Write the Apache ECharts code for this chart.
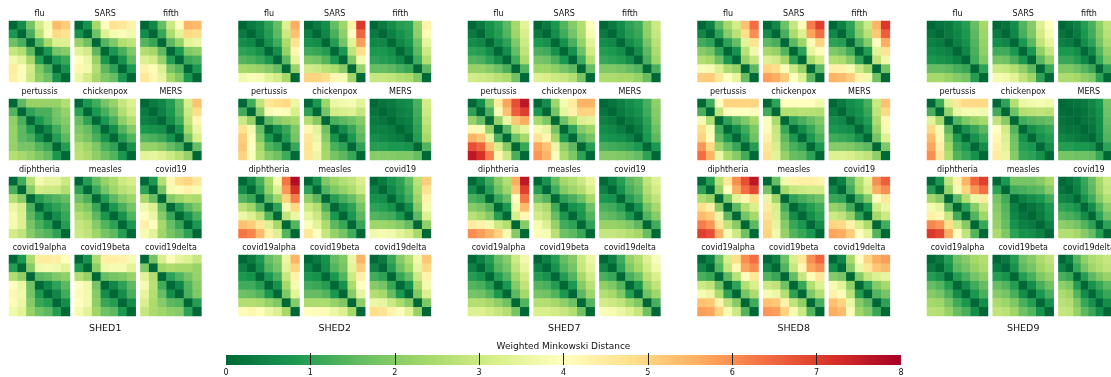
<!DOCTYPE html>
<html>
<head>
<meta charset="utf-8">
<script src="https://cdn.jsdelivr.net/npm/echarts@6/dist/echarts.min.js"></script>
<style>
  html, body { margin: 0; padding: 0; background: #fff; }
  #chart { width: 1111px; height: 377px; }
</style>
</head>
<body>
<div id="chart"></div>
<script>
// Shedding models shown as columns of small multiples
const groups = ['SHED1', 'SHED2', 'SHED7', 'SHED8', 'SHED9'];
// Diseases, laid out 3 per row, 4 rows per model
const diseases = ['flu', 'SARS', 'fifth', 'pertussis', 'chickenpox', 'MERS',
  'diphtheria', 'measles', 'covid19', 'covid19alpha', 'covid19beta', 'covid19delta'];
// Colour bar ticks (distance)
const colorTicks = [0, 1, 2, 3, 4, 5, 6, 7, 8];
// RdYlGn reversed
const cmap = ['#006837', '#1a9850', '#66bd63', '#a6d96a', '#d9ef8b', '#ffffbf',
  '#fee08b', '#fdae61', '#f46d43', '#d73027', '#a50026'];

// 7x7 weighted Minkowski distance matrices, one per disease, in the order of `diseases`
const SHED1 = [
  [[0,0.6,1.8,3.1,3.8,5.4,5.1],[0.8,0,1.3,2.7,3.9,4.9,4.7],[1.7,1.3,0,1.4,2.4,3.3,3.3],[2.9,2.6,1.5,0,0.8,1.8,2.0],[3.7,3.4,2.4,0.9,0,0.8,1.1],[4.5,4.1,3.1,1.9,1.3,0,0.7],[4.4,3.9,3.0,2.1,1.7,0.7,0]],
  [[0,0.7,2.4,4.0,4.7,4.6,4.3],[0.7,0,1.7,3.3,3.8,3.9,3.7],[2.2,1.7,0,1.4,1.9,2.6,2.8],[3.4,3.1,1.5,0,0.8,1.3,1.9],[4.0,3.6,2.2,0.8,0,0.7,1.5],[4.2,3.7,2.6,1.5,1.0,0,0.8],[3.6,3.1,2.4,1.9,1.6,0.8,0]],
  [[0,0.5,1.6,3.0,4.0,5.5,5.4],[0.6,0,1.1,2.5,3.4,4.9,4.8],[1.4,1.1,0,1.5,2.2,3.4,3.6],[2.6,2.4,1.5,0,0.8,1.9,2.1],[3.3,3.1,2.2,0.9,0,1.1,1.3],[4.3,4.1,3.3,1.8,1.4,0,0.8],[4.6,4.2,3.5,2.4,1.9,0.8,0]],
  [[0,1.5,2.2,2.2,2.2,2.2,2.6],[1.4,0,1.0,1.3,1.3,1.8,2.2],[2.1,1.3,0,0.8,1.2,1.7,2.0],[2.2,1.5,0.9,0,0.5,1.2,1.8],[2.2,1.5,1.3,0.6,0,0.9,1.5],[2.2,1.8,1.8,1.4,1.1,0,0.9],[2.6,2.4,2.2,1.9,1.6,0.8,0]],
  [[0,0.8,1.2,1.8,2.2,2.9,3.3],[1.0,0,0.8,1.3,1.8,2.6,3.1],[1.6,1.0,0,0.8,1.3,2.1,2.6],[1.9,1.6,1.0,0,0.6,1.4,2.0],[2.1,1.8,1.3,0.7,0,0.9,1.4],[2.6,2.3,1.9,1.3,1.0,0,0.7],[2.7,2.5,2.1,1.7,1.4,0.8,0]],
  [[0,0.3,0.5,0.9,1.6,3.2,5.3],[0.3,0,0.4,0.8,1.5,3.0,4.8],[0.4,0.3,0,0.6,1.2,2.8,4.2],[0.8,0.7,0.6,0,0.7,2.4,3.6],[1.4,1.3,1.1,0.7,0,1.8,3.2],[2.2,2.2,2.0,1.6,1.3,0,1.6],[3.4,3.5,3.3,3.0,2.7,2.2,0]],
  [[0,1.2,2.7,3.8,3.5,3.5,3.0],[1.3,0,2.0,3.1,3.0,3.0,2.6],[2.6,2.0,0,0.9,1.2,1.4,1.6],[3.6,3.2,1.3,0,0.7,1.0,1.3],[3.8,3.3,1.5,0.9,0,0.6,1.1],[3.8,3.3,1.8,1.3,0.9,0,0.9],[3.1,2.8,2.0,1.6,1.4,1.0,0]],
  [[0,0.9,1.6,2.2,2.5,3.0,3.2],[1.0,0,1.1,1.8,2.3,2.7,2.9],[1.7,1.3,0,0.9,1.5,2.0,2.3],[2.2,1.9,1.1,0,0.8,1.3,1.8],[2.6,2.3,1.5,0.8,0,0.7,1.4],[2.9,2.7,2.0,1.4,1.0,0,0.8],[3.0,2.8,2.3,1.8,1.5,0.9,0]],
  [[0,0.8,2.6,4.2,4.8,5.0,4.6],[1.0,0,1.8,3.8,4.1,4.3,3.8],[2.4,1.6,0,2.0,2.3,2.6,2.5],[3.7,3.3,1.6,0,0.9,1.5,1.9],[4.0,3.6,2.0,1.1,0,0.7,1.3],[4.4,4.0,2.4,1.6,1.1,0,0.8],[3.8,3.4,2.3,1.8,1.5,1.0,0]],
  [[0,0.8,2.5,4.5,4.5,4.4,4.0],[0.9,0,2.0,3.7,3.8,3.7,3.4],[2.6,2.1,0,1.5,1.6,1.9,2.1],[4.0,3.6,1.7,0,0.5,1.0,1.5],[4.2,3.7,1.8,0.8,0,0.5,1.2],[4.1,3.6,2.0,1.1,0.9,0,0.6],[3.7,3.4,2.2,1.7,1.5,0.9,0]],
  [[0,0.7,2.5,4.4,4.4,4.3,3.8],[0.8,0,2.1,3.7,3.8,3.8,3.4],[2.6,2.2,0,1.6,1.8,1.9,2.2],[4.0,3.7,1.8,0,0.5,1.0,1.5],[4.1,3.7,2.0,0.6,0,0.6,1.3],[4.0,3.7,2.1,1.1,0.9,0,0.6],[3.8,3.4,2.3,1.7,1.5,0.8,0]],
  [[0,1.8,3.2,3.9,3.5,3.3,2.9],[1.9,0,2.3,2.5,2.4,2.4,2.2],[3.4,2.6,0,1.0,1.4,1.8,2.2],[3.8,2.7,1.2,0,0.5,1.4,2.0],[3.5,2.6,1.6,0.6,0,1.3,1.9],[3.2,2.5,2.0,1.5,1.4,0,0.9],[2.9,2.5,2.3,2.1,2.0,1.0,0]]
];

const SHED2 = [
  [[0,0.3,0.5,1.0,1.6,3.3,5.6],[0.3,0,0.4,0.9,1.5,3.0,5.3],[0.6,0.5,0,0.7,1.2,2.5,4.7],[1.0,0.9,0.7,0,0.6,2.2,4.2],[1.4,1.3,1.1,0.8,0,1.5,3.5],[2.4,2.3,2.2,2.0,1.6,0,2.2],[3.7,3.9,3.8,3.4,3.1,2.4,0]],
  [[0,0.3,0.6,1.6,2.3,4.3,7.1],[0.4,0,0.5,1.3,2.1,4.0,6.5],[0.7,0.6,0,0.9,1.8,3.4,5.8],[1.2,1.1,0.9,0,0.8,2.8,4.8],[1.9,1.8,1.4,0.8,0,1.9,3.8],[3.1,3.0,2.7,2.5,2.0,0,2.2],[5.0,5.0,4.8,4.2,3.8,2.3,0]],
  [[0,0.3,0.6,0.9,1.0,2.2,4.3],[0.3,0,0.4,0.7,0.9,2.1,4.1],[0.5,0.5,0,0.5,0.8,1.7,3.5],[0.8,0.8,0.6,0,0.5,1.5,3.0],[1.0,0.9,0.8,0.5,0,1.2,2.6],[1.6,1.6,1.5,1.3,1.1,0,1.5],[2.9,2.9,2.8,2.6,2.5,1.9,0]],
  [[0,1.2,2.8,4.6,4.8,4.9,3.6],[1.2,0,2.0,3.8,4.0,3.9,3.2],[3.0,2.2,0,1.5,2.0,2.2,2.4],[4.7,3.7,1.6,0,0.6,1.1,1.9],[5.1,4.1,1.9,0.8,0,0.9,1.8],[5.2,4.0,2.4,1.4,1.1,0,1.1],[5.0,3.9,2.6,2.0,1.7,1.2,0]],
  [[0,0.8,2.3,3.6,3.7,3.8,3.4],[1.0,0,1.8,3.1,3.2,3.3,2.9],[2.6,2.0,0,1.3,1.5,1.7,2.0],[4.2,3.4,1.7,0,0.6,1.1,1.7],[4.6,3.6,2.0,0.7,0,0.8,1.5],[4.7,3.8,2.3,1.3,1.0,0,1.0],[4.6,3.6,2.4,1.8,1.5,1.1,0]],
  [[0,0.2,0.3,0.5,0.6,1.3,3.1],[0.2,0,0.2,0.4,0.5,1.2,3.0],[0.3,0.2,0,0.3,0.4,1.1,2.8],[0.4,0.4,0.3,0,0.3,1.0,2.6],[0.6,0.5,0.4,0.3,0,0.9,2.4],[0.9,0.9,0.8,0.8,0.7,0,1.4],[2.0,2.0,2.0,1.9,1.9,1.6,0]],
  [[0,0.5,1.3,2.4,3.8,6.3,7.8],[0.6,0,1.0,2.2,3.3,5.9,7.2],[1.4,1.1,0,1.5,2.3,5.0,6.2],[2.7,2.3,1.4,0,1.0,3.8,4.9],[3.6,3.3,2.7,1.4,0,2.8,3.6],[5.3,5.1,4.6,3.3,2.4,0,1.4],[6.3,6.1,5.4,4.4,3.3,1.4,0]],
  [[0,0.7,1.9,2.3,2.6,2.8,3.2],[1.0,0,1.4,1.9,2.2,2.5,3.0],[2.1,1.5,0,0.9,1.3,1.6,2.2],[3.0,2.6,1.3,0,0.6,1.0,1.8],[3.5,3.0,1.9,0.8,0,0.8,1.5],[3.9,3.4,2.5,1.5,1.1,0,1.1],[4.6,4.0,2.9,2.2,1.8,1.2,0]],
  [[0,0.3,0.7,1.0,1.6,2.7,5.1],[0.4,0,0.5,0.9,1.4,2.5,4.7],[0.7,0.6,0,0.7,1.2,2.3,4.3],[1.0,0.9,0.7,0,0.6,2.0,3.8],[1.4,1.3,1.2,0.8,0,1.5,3.3],[2.3,2.3,2.2,2.0,1.6,0,2.1],[3.7,3.8,3.7,3.4,3.1,2.4,0]],
  [[0,0.3,0.8,1.6,2.0,3.6,5.5],[0.4,0,0.6,1.4,1.8,3.4,5.0],[0.8,0.7,0,0.8,1.3,2.9,4.3],[1.2,1.2,0.9,0,0.7,2.4,3.8],[1.7,1.6,1.4,0.8,0,1.9,3.4],[2.6,2.6,2.5,2.2,1.9,0,2.0],[4.1,4.2,4.0,3.6,3.3,2.4,0]],
  [[0,0.3,0.7,1.6,1.9,3.6,5.5],[0.4,0,0.6,1.4,1.8,3.4,5.1],[0.8,0.7,0,0.8,1.4,3.0,4.4],[1.2,1.1,0.9,0,0.7,2.5,4.0],[1.6,1.6,1.4,0.8,0,2.0,3.5],[2.5,2.5,2.5,2.2,1.9,0,2.1],[4.0,4.1,3.9,3.6,3.3,2.4,0]],
  [[0,0.3,1.1,2.0,2.6,3.7,5.2],[0.4,0,0.9,1.7,2.3,3.5,4.9],[1.2,1.0,0,1.1,1.6,3.0,4.3],[2.0,1.8,1.1,0,0.7,2.4,3.8],[2.6,2.4,1.6,0.8,0,1.9,3.3],[3.6,3.5,3.0,2.5,2.0,0,1.9],[4.8,4.7,4.3,3.9,3.4,2.2,0]]
];

const SHED7 = [
  [[0,0.3,0.7,1.0,1.5,2.4,3.4],[0.3,0,0.6,0.9,1.4,2.3,3.2],[0.6,0.5,0,0.6,1.0,1.9,3.0],[1.0,0.9,0.6,0,0.6,1.6,2.8],[1.4,1.3,1.0,0.6,0,1.2,2.5],[2.2,2.2,2.0,1.7,1.3,0,1.4],[3.1,3.0,2.9,2.7,2.5,1.7,0]],
  [[0,0.3,0.8,1.4,2.0,2.6,4.0],[0.3,0,0.6,1.2,1.8,2.5,3.8],[0.8,0.7,0,0.7,1.3,2.2,3.4],[1.3,1.2,0.7,0,0.7,1.7,3.1],[1.8,1.7,1.3,0.8,0,1.2,2.6],[2.3,2.3,2.1,1.8,1.5,0,1.6],[3.3,3.2,3.0,2.9,2.6,1.8,0]],
  [[0,0.3,0.6,1.0,1.2,2.2,3.0],[0.3,0,0.5,0.9,1.1,2.1,2.9],[0.6,0.5,0,0.6,0.9,1.8,2.7],[0.9,0.8,0.6,0,0.6,1.5,2.5],[1.1,1.0,0.9,0.6,0,1.3,2.3],[1.9,1.9,1.8,1.6,1.4,0,1.3],[2.5,2.5,2.4,2.4,2.2,1.6,0]],
  [[0,0.6,2.0,4.5,5.7,6.8,7.6],[1.0,0,1.3,3.9,5.3,6.6,7.0],[2.2,1.6,0,2.2,3.6,5.2,5.6],[4.2,3.8,2.2,0,1.5,3.0,3.5],[5.5,5.2,3.5,1.3,0,1.7,2.4],[6.8,6.5,5.3,3.2,2.0,0,1.1],[7.6,7.2,6.2,4.2,3.0,1.3,0]],
  [[0,0.6,2.3,3.8,4.5,5.5,5.5],[0.8,0,1.8,3.5,4.3,5.0,5.0],[2.4,1.9,0,1.7,2.5,3.3,3.4],[3.8,3.5,1.8,0,1.0,2.0,2.3],[4.7,4.2,2.4,0.8,0,1.4,1.8],[5.7,5.3,3.6,2.1,1.5,0,0.9],[5.9,5.5,3.9,2.5,1.9,1.0,0]],
  [[0,0.2,0.4,0.6,0.8,1.3,2.1],[0.2,0,0.3,0.5,0.7,1.2,2.0],[0.4,0.3,0,0.3,0.5,1.0,1.9],[0.6,0.5,0.3,0,0.3,0.9,1.7],[0.8,0.7,0.6,0.4,0,0.8,1.5],[1.3,1.2,1.1,1.0,0.8,0,0.8],[2.0,2.0,1.9,1.8,1.6,1.0,0]],
  [[0,0.5,1.2,2.0,2.6,5.6,7.6],[0.6,0,0.9,1.7,2.3,5.2,7.0],[1.3,1.1,0,1.1,1.6,4.0,6.3],[2.0,1.8,1.4,0,0.8,3.7,5.4],[2.7,2.4,2.0,0.9,0,3.2,4.2],[4.5,4.3,3.8,3.0,2.6,0,2.0],[6.0,5.8,5.5,5.0,3.8,2.0,0]],
  [[0,0.7,1.6,2.4,2.6,3.0,3.5],[0.9,0,1.2,2.0,2.3,2.6,3.2],[1.8,1.4,0,1.0,1.3,1.7,2.4],[2.8,2.5,1.2,0,0.7,0.9,1.7],[3.1,2.8,1.6,0.8,0,0.8,1.4],[3.8,3.3,2.2,1.2,1.0,0,1.0],[4.1,3.8,2.7,1.7,1.5,1.1,0]],
  [[0,0.4,0.9,1.5,1.8,2.8,3.3],[0.4,0,0.7,1.3,1.6,2.6,3.1],[0.8,0.7,0,0.9,1.3,2.3,2.8],[1.3,1.2,0.9,0,0.7,1.8,2.4],[1.6,1.5,1.3,0.8,0,1.4,2.0],[2.2,2.2,2.1,1.9,1.5,0,1.2],[2.9,2.9,2.8,2.6,2.4,1.6,0]],
  [[0,0.4,0.9,1.6,2.0,3.0,3.7],[0.4,0,0.7,1.4,1.8,2.8,3.5],[0.9,0.7,0,0.9,1.4,2.4,3.1],[1.4,1.3,0.9,0,0.8,2.0,2.8],[1.8,1.7,1.4,0.8,0,1.5,2.4],[2.6,2.6,2.4,2.1,1.7,0,1.4],[3.3,3.3,3.1,2.9,2.6,1.8,0]],
  [[0,0.4,0.9,1.6,2.0,3.0,3.6],[0.4,0,0.7,1.4,1.8,2.9,3.4],[0.9,0.7,0,0.9,1.4,2.4,3.1],[1.4,1.3,0.9,0,0.8,2.0,2.7],[1.8,1.7,1.4,0.8,0,1.5,2.3],[2.6,2.6,2.4,2.1,1.7,0,1.4],[3.2,3.2,3.1,2.9,2.6,1.7,0]],
  [[0,0.4,1.2,2.2,2.6,3.3,3.9],[0.5,0,1.0,1.9,2.4,3.1,3.7],[1.3,1.1,0,1.3,1.7,2.7,3.2],[2.1,1.9,1.4,0,0.8,2.2,2.8],[2.6,2.4,1.9,0.9,0,1.7,2.3],[3.1,3.0,2.8,2.3,1.9,0,1.3],[3.9,3.8,3.6,3.3,2.9,1.7,0]]
];

const SHED8 = [
  [[0,0.4,1.5,2.4,3.1,5.3,6.4],[0.5,0,1.0,2.0,2.7,4.8,6.0],[1.2,1.0,0,1.0,1.6,3.4,4.7],[2.0,1.8,1.0,0,0.7,2.7,3.7],[2.6,2.4,1.7,0.8,0,2.2,2.9],[3.9,3.8,3.3,2.5,2.2,0,1.5],[5.1,5.1,4.6,4.0,3.5,1.6,0]],
  [[0,0.5,1.7,2.9,3.9,6.2,7.0],[0.6,0,1.3,2.5,3.3,5.7,6.4],[1.5,1.3,0,1.5,2.3,4.1,5.0],[2.4,2.2,1.4,0,1.0,3.5,4.1],[3.3,3.1,2.4,1.0,0,2.5,3.1],[5.0,4.8,3.9,3.0,2.2,0,1.5],[5.8,5.6,5.1,4.0,3.3,1.5,0]],
  [[0,0.4,1.0,2.1,3.0,5.5,7.1],[0.5,0,0.9,1.9,2.7,5.2,6.6],[1.0,0.9,0,1.2,2.0,4.0,5.6],[1.9,1.7,1.2,0,0.9,3.4,4.7],[2.6,2.5,2.0,1.0,0,2.8,3.7],[4.4,4.3,3.8,3.0,2.3,0,1.8],[5.5,5.4,5.1,4.3,3.7,1.7,0]],
  [[0,1.2,4.0,5.0,5.0,5.0,5.0],[1.3,0,2.8,3.9,4.0,4.0,3.9],[3.8,2.6,0,1.0,1.5,1.9,2.4],[4.8,3.8,1.2,0,0.6,1.2,1.9],[5.0,4.1,1.5,0.8,0,0.9,1.7],[5.9,4.9,2.3,1.6,1.1,0,0.9],[6.4,5.5,3.6,2.5,2.0,1.2,0]],
  [[0,1.0,4.0,4.0,4.0,4.0,3.7],[1.2,0,2.6,2.6,2.7,2.7,2.6],[3.9,2.5,0,1.0,1.3,1.6,1.9],[4.1,2.9,1.1,0,0.6,1.1,1.6],[4.3,3.0,1.5,0.8,0,0.8,1.3],[4.6,3.2,1.8,1.3,1.0,0,0.8],[4.7,3.4,2.2,1.6,1.5,1.0,0]],
  [[0,0.3,0.6,0.8,1.3,3.0,5.3],[0.3,0,0.5,0.7,1.1,2.8,4.9],[0.6,0.5,0,0.5,0.9,2.5,4.2],[0.8,0.7,0.6,0,0.6,2.2,3.8],[1.2,1.1,1.0,0.6,0,1.8,3.3],[2.0,2.0,1.9,1.7,1.5,0,1.9],[3.3,3.3,3.2,3.0,2.8,2.1,0]],
  [[0,0.9,2.7,4.6,6.0,6.8,7.6],[1.0,0,2.2,4.0,5.6,6.4,6.9],[2.5,2.2,0,1.9,3.4,4.2,4.8],[4.8,4.4,2.0,0,1.5,2.6,3.2],[5.4,5.1,3.6,1.5,0,1.8,2.4],[6.2,5.9,4.6,2.8,2.0,0,1.5],[7.0,6.8,5.5,3.8,3.0,1.7,0]],
  [[0,1.6,3.7,4.3,4.4,4.4,4.3],[1.8,0,2.4,2.9,3.0,3.1,3.1],[3.6,2.3,0,1.0,1.3,1.5,1.7],[4.5,3.2,1.2,0,0.5,0.9,1.2],[4.7,3.3,1.6,0.6,0,0.6,1.0],[4.9,3.5,2.0,1.1,0.8,0,0.6],[5.0,3.7,2.2,1.4,1.1,0.8,0]],
  [[0,0.4,1.5,2.6,3.4,6.0,6.6],[0.5,0,1.2,2.4,3.2,5.6,6.0],[1.1,1.0,0,1.2,2.0,4.0,4.6],[2.2,2.0,1.2,0,0.8,3.1,3.6],[3.0,2.8,2.2,1.0,0,2.4,3.0],[5.0,4.9,4.3,3.2,2.5,0,1.2],[5.7,5.6,5.1,4.0,3.4,1.4,0]],
  [[0,0.4,1.7,3.2,4.8,6.0,6.4],[0.5,0,1.4,2.9,4.2,5.7,6.0],[1.3,1.1,0,1.5,2.7,4.0,4.6],[3.0,2.8,1.7,0,1.0,2.6,3.2],[3.8,3.6,2.5,1.0,0,1.8,2.5],[5.3,5.2,4.3,2.8,2.0,0,1.2],[5.8,5.7,5.0,3.8,3.0,1.4,0]],
  [[0,0.4,1.7,3.2,4.6,6.0,6.5],[0.5,0,1.4,2.9,4.2,5.7,6.0],[1.4,1.1,0,1.6,2.9,4.1,4.6],[3.0,2.8,1.7,0,1.1,2.6,3.3],[3.8,3.6,2.6,1.0,0,1.9,2.6],[5.3,5.2,4.3,2.8,2.1,0,1.3],[5.9,5.8,5.0,3.8,3.0,1.4,0]],
  [[0,0.5,2.4,4.0,5.0,5.6,5.8],[0.6,0,2.0,3.6,4.6,5.2,5.4],[2.0,1.8,0,2.0,2.9,3.3,3.5],[3.8,3.4,2.1,0,1.0,2.0,2.4],[4.3,3.9,2.7,0.9,0,1.4,1.8],[5.3,5.0,3.6,2.0,1.5,0,1.0],[5.6,5.4,3.9,2.3,1.9,1.1,0]]
];

const SHED9 = [
  [[0,0.2,0.3,0.6,0.9,1.6,2.4],[0.2,0,0.3,0.5,0.8,1.5,2.3],[0.4,0.3,0,0.4,0.7,1.4,2.2],[0.6,0.5,0.4,0,0.5,1.3,2.1],[0.8,0.7,0.6,0.4,0,1.2,1.9],[1.6,1.6,1.5,1.3,1.1,0,1.0],[2.4,2.4,2.2,2.0,1.8,0.9,0]],
  [[0,0.2,0.6,1.4,2.0,3.3,4.0],[0.3,0,0.5,1.3,1.9,3.1,3.8],[0.6,0.5,0,0.8,1.5,2.8,3.5],[1.2,1.2,0.8,0,0.8,2.1,2.9],[1.8,1.7,1.3,0.8,0,1.5,2.2],[3.0,2.9,2.6,2.1,1.5,0,1.1],[3.8,3.7,3.4,2.8,2.3,1.0,0]],
  [[0,0.2,0.4,0.9,1.3,2.1,2.8],[0.2,0,0.3,0.8,1.2,2.0,2.7],[0.4,0.3,0,0.6,1.0,1.8,2.5],[0.8,0.8,0.6,0,0.5,1.4,2.2],[1.1,1.1,0.9,0.5,0,1.1,1.9],[1.9,1.9,1.7,1.4,1.1,0,1.0],[2.5,2.5,2.4,2.1,1.9,1.0,0]],
  [[0,1.2,3.3,4.6,4.9,4.9,4.9],[1.3,0,2.2,3.6,3.8,3.8,3.7],[3.4,2.4,0,1.4,1.9,2.2,2.4],[4.9,3.8,1.5,0,0.7,1.1,1.5],[5.4,4.2,2.0,0.8,0,0.7,1.1],[5.7,4.4,2.3,1.1,0.8,0,0.6],[6.0,4.6,2.6,1.4,1.1,0.7,0]],
  [[0,1.0,2.6,3.6,3.7,3.8,3.7],[1.2,0,1.7,2.6,2.7,2.8,2.7],[2.8,2.0,0,1.2,1.4,1.5,1.6],[4.0,3.1,1.4,0,0.6,0.9,1.1],[4.2,3.3,1.7,0.7,0,0.7,0.9],[4.3,3.4,1.8,0.9,0.8,0,0.6],[4.5,3.6,2.0,1.1,1.0,0.7,0]],
  [[0,0.1,0.2,0.3,0.5,0.8,1.8],[0.1,0,0.1,0.2,0.4,0.7,1.7],[0.2,0.1,0,0.2,0.3,0.6,1.6],[0.3,0.2,0.2,0,0.2,0.6,1.5],[0.5,0.4,0.3,0.2,0,0.5,1.4],[0.9,0.9,0.8,0.8,0.7,0,1.0],[1.8,1.8,1.7,1.7,1.6,1.1,0]],
  [[0,0.8,2.8,4.3,5.5,6.5,7.0],[0.9,0,2.2,3.8,5.0,5.9,6.4],[2.4,2.0,0,1.5,2.6,3.6,4.5],[3.8,3.5,1.5,0,1.0,2.0,2.9],[4.4,4.2,2.9,1.2,0,1.4,2.3],[6.1,5.9,4.8,3.0,2.0,0,1.1],[7.1,6.9,5.6,4.0,2.8,1.4,0]],
  [[0,0.8,1.8,1.8,1.8,2.0,2.4],[1.0,0,1.2,1.3,1.4,1.5,2.0],[1.8,1.2,0,0.4,0.6,0.8,1.2],[2.0,1.4,0.4,0,0.2,0.4,0.8],[2.1,1.5,0.5,0.2,0,0.3,0.7],[2.2,1.6,0.7,0.4,0.3,0,0.4],[2.5,1.9,1.0,0.7,0.6,0.4,0]],
  [[0,0.2,0.5,1.1,1.6,2.4,3.0],[0.2,0,0.4,1.0,1.5,2.3,2.9],[0.5,0.4,0,0.7,1.2,2.0,2.6],[1.0,0.9,0.7,0,0.6,1.4,2.1],[1.4,1.3,1.1,0.6,0,1.0,1.7],[2.1,2.0,1.8,1.4,1.0,0,1.0],[2.6,2.6,2.4,2.0,1.6,0.9,0]],
  [[0,0.3,0.9,1.7,2.0,2.4,2.6],[0.3,0,0.7,1.5,1.8,2.2,2.5],[0.9,0.7,0,0.9,1.3,1.8,2.1],[1.6,1.4,0.9,0,0.6,1.2,1.6],[2.0,1.8,1.3,0.6,0,0.8,1.3],[2.4,2.3,1.8,1.2,0.8,0,0.6],[2.7,2.6,2.2,1.6,1.3,0.6,0]],
  [[0,0.3,0.9,1.7,2.0,2.5,2.8],[0.3,0,0.7,1.5,1.8,2.3,2.6],[0.9,0.7,0,0.9,1.3,1.9,2.2],[1.6,1.4,0.9,0,0.6,1.3,1.7],[2.0,1.8,1.3,0.6,0,0.8,1.3],[2.5,2.3,1.9,1.3,0.9,0,0.7],[2.8,2.7,2.3,1.7,1.4,0.7,0]],
  [[0,0.4,1.4,2.1,2.5,2.7,2.9],[0.4,0,1.1,1.8,2.3,2.6,2.8],[1.3,1.1,0,0.9,1.5,1.9,2.2],[2.1,1.9,0.9,0,0.7,1.1,1.5],[2.5,2.3,1.4,0.6,0,0.7,1.1],[2.7,2.6,1.9,1.1,0.7,0,0.6],[2.9,2.8,2.2,1.5,1.1,0.6,0]]
];

const matrices = [SHED1, SHED2, SHED7, SHED8, SHED9];

// ---- layout (pixels) ----
const FONT = '"DejaVu Sans", sans-serif';
const groupLeft = 9, groupStep = 229.5;
const colStep = 65.7, rowTop = 21, rowStep = 78, cell = 61;
const idx7 = [0, 1, 2, 3, 4, 5, 6];

const grid = [], xAxis = [], yAxis = [], series = [], graphic = [];

groups.forEach((gName, g) => {
  const gx = groupLeft + g * groupStep;
  diseases.forEach((dName, d) => {
    const r = Math.floor(d / 3), c = d % 3;
    const left = gx + c * colStep, top = rowTop + r * rowStep;
    const k = grid.length;
    grid.push({ left: left, top: top, width: cell, height: cell });
    xAxis.push({ type: 'category', data: idx7, gridIndex: k, show: false });
    yAxis.push({ type: 'category', data: idx7, gridIndex: k, show: false, inverse: true });
    const m = matrices[g][d];
    const data = [];
    m.forEach((row, i) => row.forEach((v, j) => data.push([j, i, v])));
    series.push({
      type: 'heatmap', xAxisIndex: k, yAxisIndex: k, data: data,
      itemStyle: { borderWidth: 0 }, emphasis: { disabled: true }, progressive: 0
    });
    graphic.push({
      type: 'text', x: left + cell / 2, y: top - 7,
      style: { text: dName, font: '8px ' + FONT, fill: '#111', align: 'center', verticalAlign: 'middle' }
    });
  });
  graphic.push({
    type: 'text', x: gx + (2 * colStep + cell) / 2, y: 329,
    style: { text: gName, font: '9.5px ' + FONT, fill: '#111', align: 'center', verticalAlign: 'middle' }
  });
});

// ---- colour bar ----
const cbLeft = 226, cbTop = 355, cbWidth = 675, cbHeight = 15;
const cbIndex = grid.length;
grid.push({ left: cbLeft, top: cbTop, width: cbWidth, height: cbHeight });
xAxis.push({
  type: 'value', gridIndex: cbIndex, min: colorTicks[0], max: colorTicks[colorTicks.length - 1], interval: 1, z: 10,
  axisLine: { show: false }, splitLine: { show: false },
  axisTick: { show: true, inside: true, length: 12, lineStyle: { color: '#222', width: 1 },
    customValues: colorTicks.slice(1, -1) },
  axisLabel: { fontFamily: FONT, fontSize: 8, color: '#111', margin: 4, customValues: colorTicks,
    formatter: v => String(v) }
});
yAxis.push({ type: 'value', gridIndex: cbIndex, min: 0, max: 1, show: false });
series.push({
  type: 'custom', xAxisIndex: cbIndex, yAxisIndex: cbIndex, z: 1, silent: true,
  data: [[colorTicks[0], colorTicks[colorTicks.length - 1]]],
  renderItem: (params, api) => {
    const p0 = api.coord([api.value(0), 1]);
    const p1 = api.coord([api.value(1), 0]);
    return {
      type: 'rect',
      shape: { x: p0[0], y: p0[1], width: p1[0] - p0[0], height: p1[1] - p0[1] },
      style: {
        fill: new echarts.graphic.LinearGradient(0, 0, 1, 0,
          cmap.map((c, i) => ({ offset: i / (cmap.length - 1), color: c })))
      }
    };
  }
});
graphic.push({
  type: 'text', x: cbLeft + cbWidth / 2, y: 347,
  style: { text: 'Weighted Minkowski Distance', font: '9px ' + FONT, fill: '#111', align: 'center', verticalAlign: 'middle' }
});

const chart = echarts.init(document.getElementById('chart'), null, { renderer: 'canvas' });
chart.setOption({
  animation: false,
  backgroundColor: '#fff',
  grid, xAxis, yAxis, series, graphic,
  visualMap: {
    type: 'continuous', show: false, min: 0, max: 8,
    seriesIndex: series.map((s, i) => i).filter(i => i < cbIndex),
    inRange: { color: cmap }
  }
});
</script>
</body>
</html>
